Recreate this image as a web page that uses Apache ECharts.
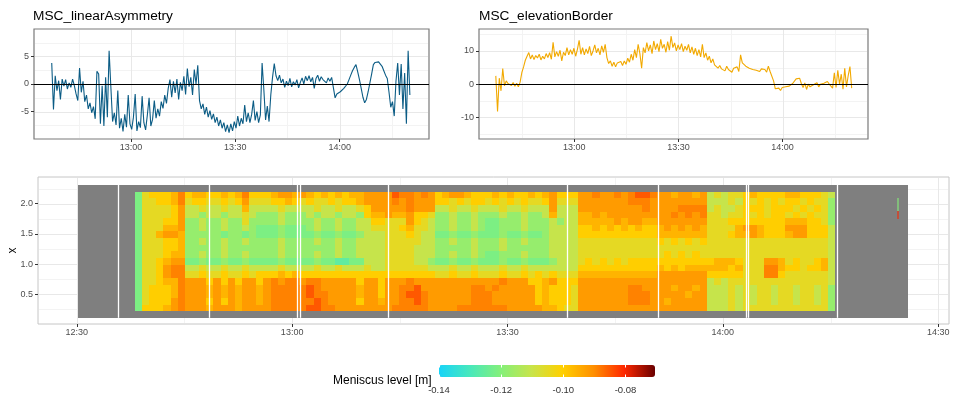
<!DOCTYPE html>
<html>
<head>
<meta charset="utf-8">
<script src="https://cdn.jsdelivr.net/npm/echarts@6/dist/echarts.min.js"></script>
<style>
html,body{margin:0;padding:0;background:#fff;}
#chart{width:954px;height:393px;}
</style>
</head>
<body>
<div id="chart"></div>
<script>
// ---------------- DATA ----------------
// time is expressed in minutes after 12:00
const LA_T0 = 37.2, LA_STEP = 0.5;           // MSC_linearAsymmetry sampling
const LA_VALUES = [
3.8,-4.6,1.5,-1.2,0.6,-2.8,0.9,-0.4,0.8,-0.9,
0.2,-0.6,0.9,-0.3,-1.8,-3.0,2.9,-1.5,0.5,-3.2,
-2.0,-4.5,-3.4,-5.2,-4.1,-6.3,2.3,1.8,-7.2,-0.3,
-7.6,1.2,-6.0,6.0,-0.5,-6.8,-5.2,-7.4,-1.2,-8.0,
-6.2,-8.6,-5.5,-7.8,-2.0,-7.2,-8.2,-6.0,-1.8,-8.5,
-6.8,-7.9,-2.2,-7.0,-8.3,-5.6,-2.5,-7.6,-6.4,-3.0,
-6.2,-4.5,-5.8,-3.2,-4.4,-2.0,-3.5,-0.8,0.8,-2.4,
0.5,-1.6,0.9,-2.8,0.3,-1.2,1.4,-1.9,2.8,-0.5,
1.2,-2.0,2.6,0.0,3.4,-3.0,-4.5,-3.6,-5.5,-4.2,
-6.0,-4.8,-6.4,-5.4,-7.0,-6.0,-7.6,-6.5,-8.0,-7.0,
-8.6,-7.4,-8.8,-7.2,-8.5,-6.8,-8.0,-5.8,-7.6,-6.2,
-7.2,-3.8,-6.8,-5.2,-7.0,-5.5,-3.0,-6.6,-5.0,-7.0,
-5.6,3.8,-1.0,-6.5,-4.0,-6.8,-2.0,1.2,3.7,1.5,
0.6,1.6,0.2,0.9,-0.6,0.5,-0.3,1.0,-0.5,0.4,
-0.2,0.8,-0.7,0.3,1.1,0.0,1.4,0.6,1.5,0.4,
1.2,-0.8,1.0,1.6,0.5,1.3,0.8,1.0,0.2,1.1,
0.5,1.2,1.3,-2.5,-1.8,-2.0,-1.4,-1.6,-0.8,-0.9,
0.0,0.8,1.6,2.4,3.0,3.5,2.2,0.8,-0.8,-2.4,
-3.4,-2.8,-1.4,0.2,1.8,3.5,3.9,3.7,4.0,3.6,
3.2,2.4,1.6,1.0,-1.5,-4.2,-3.2,-5.8,0.5,3.8,
-2.0,3.6,-4.5,2.0,-7.2,6.0,-2.0
];

const EB_T0 = 37.4, EB_STEP = 0.5;           // MSC_elevationBorder sampling
const EB_VALUES = [
2.5,-8.2,1.8,-2.0,4.7,-0.5,1.0,0.2,0.8,-0.4,
0.5,-0.6,0.3,-0.8,0.6,3.5,5.2,7.2,8.4,9.5,
7.6,8.8,7.4,8.6,7.9,9.0,7.3,8.4,7.6,9.2,
8.0,9.5,7.5,12.6,8.2,9.8,8.4,10.2,7.0,9.6,
8.6,11.0,8.8,10.4,9.0,10.8,8.4,10.5,13.2,9.0,
11.0,8.8,10.6,9.2,11.4,8.6,10.0,11.8,9.4,10.8,
8.8,11.5,9.6,12.0,8.0,6.2,7.0,5.4,6.6,5.2,
6.4,5.8,6.8,5.6,7.0,6.0,7.8,6.6,9.0,7.2,
10.4,8.0,12.0,9.2,4.8,11.0,9.4,12.5,10.0,11.8,
9.2,13.0,10.4,12.2,9.8,13.5,10.8,12.0,9.6,12.8,
10.2,14.5,11.0,12.4,10.0,11.8,10.4,12.2,9.8,11.4,
10.2,12.0,9.4,11.2,9.0,10.8,8.6,10.4,8.2,12.0,
8.0,9.4,7.2,8.4,6.4,7.6,5.8,6.4,4.8,5.6,
4.6,5.2,4.0,5.4,4.4,5.0,3.6,4.8,4.2,5.2,
3.8,8.8,6.4,6.0,5.4,5.8,4.8,5.4,4.4,5.0,
4.2,4.8,3.8,4.6,4.0,4.4,3.6,5.4,3.8,4.4,
1.0,-1.4,-1.8,-1.2,-1.9,-1.0,-1.6,-0.8,-1.4,-0.6,
-1.0,0.2,0.8,1.6,1.2,1.8,0.2,-1.0,0.4,-1.6,
0.0,-0.8,-1.2,-0.2,-0.6,0.4,-0.8,0.0,-0.4,0.3,
-0.2,0.8,0.1,-0.5,-1.2,3.4,-1.0,4.2,0.0,3.0,
-1.5,4.8,-0.8,2.6,5.3,-1.2
];

// Heatmap: one column per ~minute, 18 sensor rows (x position), top row first
const HEAT_T0 = 38.08, HEAT_STEP = 0.996;
const HEAT_Y = [2.145,2.035,1.925,1.815,1.705,1.595,1.485,1.375,1.265,1.155,1.045,0.935,0.825,0.715,0.605,0.495,0.385,0.275];
// level code -> meniscus level [m]
const HEAT_LEVELS = {'1':-0.126,'2':-0.1215,'3':-0.1175,'4':-0.1105,'5':-0.105,'6':-0.100,'7':-0.096,'8':-0.092,'9':-0.089,'a':-0.085};
const HEAT_ROWS = [
"2 566679 6776 676796 6678878 767676778 888 a99898 6788766 6767667678 666 88988989aa9 8878878 45455 676666 776665 4",
"2 556679 5665 565685 5566765 655656678 888 989888 6656566 5656565568 555 88888889998 8888888 44454 656565 665655 3",
"2 555568 4454 454474 4445444 454454456 888 889888 4454454 4454454448 444 88888888898 8889999 45445 666566 656565 3",
"2 555568 4434 434454 3334333 434434436 778 778665 3343343 3343343347 444 77878888888 8898989 55455 656566 565655 3",
"2 555668 3343 343353 3334333 343343344 665 558654 3343343 2233343334 344 77777878877 8888888 55566 666666 777665 3",
"2 555778 3343 343343 2223222 343343344 555 567554 3343343 2233343334 444 66767676766 7878787 55557 887666 888666 4",
"2 557887 3333 323323 2223222 232232234 445 556544 2232232 2232232234 444 66666666666 7777777 55567 787666 788666 4",
"2 555667 3343 343343 3334333 343343344 445 555544 3343343 3343343334 444 55555555555 6565656 55555 555555 555555 4",
"2 555667 3333 343333 3334333 333343344 445 555444 3333343 3343333334 444 55555555555 5555555 55555 555555 555555 4",
"2 555677 3343 343343 3334333 343343344 445 555444 3343343 2233343334 444 55555555555 5656565 55555 555555 555555 4",
"2 556788 2232 232232 2223222 232211224 445 555443 2232232 2232232223 444 56565656666 6666666 67776 555887 565567 4",
"2 556899 4454 454454 4445444 454454445 445 555554 4454454 4454454444 444 66666666666 7676777 77767 555997 665667 4",
"2 556899 5565 565565 6667676 666666666 666 666666 5565565 5565565656 555 77777777777 8888888 66666 555996 555555 4",
"2 556779 8886 868688 6898998 998888868 868 889888 8888888 8898886678 666 88888888888 8888888 45455 555555 555555 4",
"2 566679 8887 878788 7899999 a98888878 868 899a88 8888899 8988888676 665 88888889988 8878878 44454 545545 545545 3",
"2 566679 8887 878788 7899999 a99888878 868 89aa98 8888899 9888888676 665 88888889998 8888788 44454 545545 545545 3",
"2 566689 8886 868788 7899999 9a9888868 878 899a98 8888899 9888888676 665 88888889998 8788888 44454 545545 545545 3",
"2 666789 8887 888788 8899999 aa9988888 888 999998 8889999 9998888877 655 88888888888 8888888 44454 555555 555555 3"
];
// isolated cells far right: [t0, t1, yLow, yHigh, level]
const STRAY_CELLS = [[144.2, 144.6, 1.88, 2.10, -0.120], [144.2, 144.6, 1.75, 1.88, -0.080]];
const SENSOR_FRAME = [30.2, 145.8, 0.11, 2.31];       // grey sensor area extent
const WHITE_LINES = [35.81, 48.42, 60.73, 61.05, 73.34, 98.26, 110.93, 123.23, 123.51, 135.85];

const TOP_X_TICKS = [60, 90, 120];
const TOP_X_MINOR = [45, 75, 105, 135];
const BOT_X_TICKS = [30, 60, 90, 120, 150];
const BOT_X_MINOR = [45, 75, 105, 135];
const LA_Y_TICKS = [-5, 0, 5];
const LA_Y_MINOR = [-7.5, -2.5, 2.5, 7.5];
const EB_Y_TICKS = [-10, 0, 10];
const EB_Y_MINOR = [-15, -5, 5, 15];
const HEAT_Y_TICKS = [0.5, 1.0, 1.5, 2.0];
const HEAT_Y_MINOR = [0.25, 0.75, 1.25, 1.75, 2.25];
const LEGEND_TICKS = [-0.14, -0.12, -0.10, -0.08];
const COLOR_RANGE = [-0.14, -0.0705];

// ---------------- STYLE ----------------
const FONT = '"Liberation Sans", Arial, Helvetica, sans-serif';
const COLOR_STOPS = ['#18d4f8', '#48e8bc', '#84f07a', '#c8e44a', '#ffd000', '#ff9000', '#ff2800', '#6a0000'];
const MAJOR_C = '#e8e8e8', MINOR_C = '#f3f3f3';
const TICK_C = '#333333', LABEL_C = '#4d4d4d';

function fmtTime(v) {
  const tot = Math.round(v);
  const h = 12 + Math.floor(tot / 60), m = tot % 60;
  return h + ':' + (m < 10 ? '0' : '') + m;
}

function xAxisCfg(gi, min, max, ticks) {
  return {
    type: 'value', gridIndex: gi, min: min, max: max,
    axisLine: { show: false, onZero: false },
    axisTick: { show: true, customValues: ticks, length: 3, lineStyle: { color: TICK_C, width: 1 } },
    axisLabel: { customValues: ticks, formatter: fmtTime, color: LABEL_C, fontSize: 9, margin: 4, fontFamily: FONT },
    splitLine: { show: false }
  };
}
function yAxisCfg(gi, min, max, ticks, fmt) {
  return {
    type: 'value', gridIndex: gi, min: min, max: max,
    axisLine: { show: false, onZero: false },
    axisTick: { show: true, customValues: ticks, length: 3, lineStyle: { color: TICK_C, width: 1 } },
    axisLabel: { customValues: ticks, formatter: fmt, color: LABEL_C, fontSize: 9, margin: 5, fontFamily: FONT },
    splitLine: { show: false }
  };
}

function guideSeries(gi, xr, yr, xMaj, xMin, yMaj, yMin) {
  return {
    type: 'custom', xAxisIndex: gi, yAxisIndex: gi, silent: true, z: 1, clip: false,
    data: [[xr[0], yr[0]]],
    renderItem: function (params, api) {
      const cs = params.coordSys;
      const kids = [];
      function v(val, color) {
        const x = Math.round(api.coord([val, yr[0]])[0]) + 0.5;
        kids.push({ type: 'line', shape: { x1: x, y1: cs.y + 1, x2: x, y2: cs.y + cs.height - 1 }, style: { stroke: color, lineWidth: 1 } });
      }
      function h(val, color) {
        const y = Math.round(api.coord([xr[0], val])[1]) + 0.5;
        kids.push({ type: 'line', shape: { x1: cs.x + 1, y1: y, x2: cs.x + cs.width - 1, y2: y }, style: { stroke: color, lineWidth: 1 } });
      }
      xMin.forEach(function (a) { v(a, MINOR_C); });
      yMin.forEach(function (a) { h(a, MINOR_C); });
      xMaj.forEach(function (a) { v(a, MAJOR_C); });
      yMaj.forEach(function (a) { h(a, MAJOR_C); });
      return { type: 'group', children: kids };
    }
  };
}

function rectItem(api, style) {
  const a = api.coord([api.value(0), api.value(3)]);
  const b = api.coord([api.value(1), api.value(2)]);
  const x0 = Math.round(a[0]), x1 = Math.round(b[0]), y0 = Math.round(a[1]), y1 = Math.round(b[1]);
  return { type: 'rect', shape: { x: x0, y: y0, width: x1 - x0, height: y1 - y0 }, style: style };
}

// ---------------- BUILD ----------------
const laData = LA_VALUES.map(function (v, i) { return [LA_T0 + i * LA_STEP, v]; });
const ebData = EB_VALUES.map(function (v, i) { return [EB_T0 + i * EB_STEP, v]; });

const HALF_ROW = (HEAT_Y[0] - HEAT_Y[1]) / 2;
const heatData = [];
HEAT_ROWS.forEach(function (row, r) {
  const s = row.replace(/ /g, '');
  for (let c = 0; c < s.length; c++) {
    const t0 = HEAT_T0 + c * HEAT_STEP;
    heatData.push([t0, t0 + HEAT_STEP, HEAT_Y[r] - HALF_ROW, HEAT_Y[r] + HALF_ROW, HEAT_LEVELS[s[c]]]);
  }
});

const zeroLine = {
  silent: true, symbol: ['none', 'none'], label: { show: false }, animation: false,
  lineStyle: { color: '#000', width: 1, type: 'solid' }, emphasis: { disabled: true },
  data: [{ yAxis: 0 }]
};

const LA_XR = [32.1, 145.7], LA_YR = [-9.95, 9.95];
const EB_XR = [32.56, 144.6], EB_YR = [-16.5, 16.6];
const HM_XR = [24.6, 151.5], HM_YR = [0.008, 2.442];

const option = {
  animation: false,
  backgroundColor: '#ffffff',
  textStyle: { fontFamily: FONT },
  title: [
    { text: 'MSC_linearAsymmetry', left: 33, top: 9, padding: 0, textStyle: { fontSize: 13.7, fontWeight: 'normal', color: '#000', fontFamily: FONT } },
    { text: 'MSC_elevationBorder', left: 479, top: 9, padding: 0, textStyle: { fontSize: 13.7, fontWeight: 'normal', color: '#000', fontFamily: FONT } },
    { text: 'Meniscus level [m]', left: 333, top: 375, padding: 0, textStyle: { fontSize: 12, fontWeight: 'normal', color: '#000', fontFamily: FONT } }
  ],
  grid: [
    { left: 34, top: 29, width: 395, height: 110, show: true, outerBoundsMode: 'none', containLabel: false, backgroundColor: '#fff', borderColor: '#7a7a7a', borderWidth: 1.2 },
    { left: 479, top: 29, width: 389, height: 110, show: true, outerBoundsMode: 'none', containLabel: false, backgroundColor: '#fff', borderColor: '#7a7a7a', borderWidth: 1.2 },
    { left: 38, top: 177, width: 911, height: 147, show: true, outerBoundsMode: 'none', containLabel: false, backgroundColor: '#fff', borderColor: '#c6c6c6', borderWidth: 1 },
    { left: 439, top: 365, width: 216, height: 12, show: false, outerBoundsMode: 'none', containLabel: false }
  ],
  xAxis: [
    xAxisCfg(0, LA_XR[0], LA_XR[1], TOP_X_TICKS),
    xAxisCfg(1, EB_XR[0], EB_XR[1], TOP_X_TICKS),
    xAxisCfg(2, HM_XR[0], HM_XR[1], BOT_X_TICKS),
    {
      type: 'value', gridIndex: 3, min: COLOR_RANGE[0], max: COLOR_RANGE[1], position: 'bottom', z: 10,
      axisLine: { show: false, onZero: false },
      axisTick: { show: true, inside: true, length: 2.5, customValues: LEGEND_TICKS, lineStyle: { color: '#fff', width: 1 } },
      axisLabel: { customValues: LEGEND_TICKS, formatter: function (v) { return v.toFixed(2); }, fontSize: 9.5, color: '#333', margin: 8, fontFamily: FONT },
      splitLine: { show: false }
    },
    {
      type: 'value', gridIndex: 3, min: COLOR_RANGE[0], max: COLOR_RANGE[1], position: 'top', z: 10,
      axisLine: { show: false, onZero: false },
      axisTick: { show: true, inside: true, length: 2.5, customValues: LEGEND_TICKS, lineStyle: { color: '#fff', width: 1 } },
      axisLabel: { show: false }, splitLine: { show: false }
    }
  ],
  yAxis: [
    yAxisCfg(0, LA_YR[0], LA_YR[1], LA_Y_TICKS, function (v) { return String(v); }),
    yAxisCfg(1, EB_YR[0], EB_YR[1], EB_Y_TICKS, function (v) { return String(v); }),
    Object.assign(yAxisCfg(2, HM_YR[0], HM_YR[1], HEAT_Y_TICKS, function (v) { return v.toFixed(1); }), {
      name: 'x', nameLocation: 'middle', nameGap: 19, nameRotate: 90, nameMoveOverlap: false,
      nameTextStyle: { fontSize: 12, color: '#000', fontFamily: FONT }
    }),
    { type: 'value', gridIndex: 3, min: 0, max: 1, show: false }
  ],
  visualMap: [{
    type: 'continuous', min: COLOR_RANGE[0], max: COLOR_RANGE[1], dimension: 4, seriesIndex: [6, 7],
    orient: 'horizontal', left: 439, top: 365, itemWidth: 12, itemHeight: 216, padding: 0,
    calculable: false, realtime: false, hoverLink: false,
    inRange: { color: COLOR_STOPS }
  }],
  series: [
    guideSeries(0, LA_XR, LA_YR, TOP_X_TICKS, TOP_X_MINOR, LA_Y_TICKS, LA_Y_MINOR),
    guideSeries(1, EB_XR, EB_YR, TOP_X_TICKS, TOP_X_MINOR, EB_Y_TICKS, EB_Y_MINOR),
    guideSeries(2, HM_XR, HM_YR, BOT_X_TICKS, BOT_X_MINOR, HEAT_Y_TICKS, HEAT_Y_MINOR),
    {
      type: 'line', name: 'MSC_linearAsymmetry', xAxisIndex: 0, yAxisIndex: 0, data: laData, z: 3,
      showSymbol: false, symbol: 'none', silent: true,
      lineStyle: { color: '#0b5c85', width: 1.1 }, itemStyle: { color: '#0b5c85' },
      markLine: zeroLine
    },
    {
      type: 'line', name: 'MSC_elevationBorder', xAxisIndex: 1, yAxisIndex: 1, data: ebData, z: 3,
      showSymbol: false, symbol: 'none', silent: true,
      lineStyle: { color: '#f2a900', width: 1.1 }, itemStyle: { color: '#f2a900' },
      markLine: zeroLine
    },
    {
      type: 'custom', name: 'frame', xAxisIndex: 2, yAxisIndex: 2, z: 2, silent: true,
      encode: { x: [0, 1], y: [2, 3] },
      data: [SENSOR_FRAME],
      renderItem: function (params, api) { return rectItem(api, { fill: '#7f7f7f' }); }
    },
    {
      type: 'custom', name: 'heat', xAxisIndex: 2, yAxisIndex: 2, z: 3, silent: true,
      encode: { x: [0, 1], y: [2, 3] },
      data: heatData,
      renderItem: function (params, api) { return rectItem(api, { fill: api.visual('color') }); }
    },
    {
      type: 'custom', name: 'stray', xAxisIndex: 2, yAxisIndex: 2, z: 3, silent: true,
      encode: { x: [0, 1], y: [2, 3] },
      data: STRAY_CELLS,
      renderItem: function (params, api) { return rectItem(api, { fill: api.visual('color'), opacity: 0.55 }); }
    },
    {
      type: 'custom', name: 'segments', xAxisIndex: 2, yAxisIndex: 2, z: 4, silent: true,
      encode: { x: 0, y: [1, 2] },
      data: WHITE_LINES.map(function (t) { return [t, SENSOR_FRAME[2], SENSOR_FRAME[3]]; }),
      renderItem: function (params, api) {
        const a = api.coord([api.value(0), api.value(1)]);
        const b = api.coord([api.value(0), api.value(2)]);
        const x = Math.round(a[0]) + 0.5;
        return { type: 'line', shape: { x1: x, y1: a[1], x2: x, y2: b[1] }, style: { stroke: '#ffffff', lineWidth: 1.3 } };
      }
    }
  ]
};

const chart = echarts.init(document.getElementById('chart'), null, { renderer: 'canvas' });
chart.setOption(option);
</script>
</body>
</html>
